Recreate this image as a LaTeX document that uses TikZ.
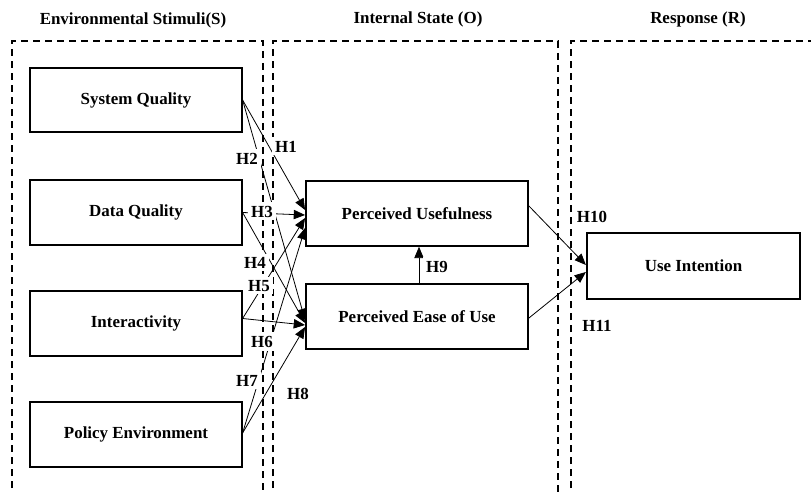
\documentclass[tikz,border=0pt]{standalone}
\usepackage{fontspec}
\setmainfont{Liberation Serif}
\usetikzlibrary{arrows.meta,calc}
\begin{document}
\begin{tikzpicture}[x=0.75pt,y=-0.75pt,
  font=\fontsize{12.7}{15}\selectfont\bfseries,
  box/.style={draw,line width=1.4pt,inner sep=0pt,minimum width=158.5pt,minimum height=48.5pt},
  region/.style={line width=1.4pt,dash pattern=on 5.5pt off 3.5pt},
  conn/.style={line width=0.6pt,-{Triangle[length=8.5pt,width=7pt]}},
  hlab/.style={fill=white,inner sep=2.5pt,anchor=base},
  head/.style={anchor=base}]
\path[use as bounding box] (0,0) rectangle (811,492);
\clip (0,0) rectangle (811,492);
% regions
\draw[region] (12,500) -- (12,41) -- (263,41) -- (263,500);
\draw[region] (273,500) -- (273,41) -- (558,41) -- (558,500);
\draw[region] (571,500) -- (571,41) -- (820,41);
% headings
\node[head] (hS) at (133,25) {Environmental Stimuli(S)};
\node[head] (hO) at (418,24) {Internal State (O)};
\node[head] (hR) at (698,24) {Response (R)};
% boxes
\node[box] (SQ) at (136,100) {System Quality};
\node[box] (DQ) at (136,212.5) {Data Quality};
\node[box] (IN) at (136,323.5) {Interactivity};
\node[box] (PE) at (136,434.5) {Policy Environment};
\node[box,minimum width=166.5pt] (PU) at (417,213.5) {Perceived Usefulness};
\node[box,minimum width=166.5pt] (PEOU) at (417,316.5) {Perceived Ease of Use};
\node[box,minimum width=160pt,minimum height=49.5pt] (UI) at (693.5,266) {Use Intention};
% connectors
\draw[conn] (SQ.east) -- ($(PU.west)+(0,-3.5)$);
\draw[conn] (SQ.east) -- ($(PEOU.west)+(0,3.5)$);
\draw[conn] (DQ.east) -- ($(PU.west)+(0,1.5)$);
\draw[conn] (DQ.east) -- ($(PEOU.west)+(0,6.5)$);
\draw[conn] ($(IN.east)+(0,-5)$) -- ($(PU.west)+(0,4.5)$);
\draw[conn] ($(IN.east)+(0,-5)$) -- ($(PEOU.west)+(0,8.5)$);
\draw[conn] ($(PE.east)+(0,-1.5)$) -- ($(PU.west)+(0,14.5)$);
\draw[conn] ($(PE.east)+(0,-1.5)$) -- ($(PEOU.west)+(0,10.5)$);
\draw[conn] ($(PEOU.north)+(2,0)$) -- ($(PU.south)+(2,0)$);
\draw[conn] ($(PU.east)+(0,-7.5)$) -- ($(UI.west)+(0,-1)$);
\draw[conn] ($(PEOU.east)+(0,1.5)$) -- ($(UI.west)+(0,6)$);
% labels
\node[hlab] (h1) at (286,152) {H1};
\node[hlab] (h2) at (247,164) {H2};
\node[hlab] (h3) at (262,217) {H3};
\node[hlab] (h4) at (255,268) {H4};
\node[hlab] (h5) at (259,291) {H5};
\node[hlab] (h6) at (262,347) {H6};
\node[hlab] (h7) at (247,386) {H7};
\node[hlab] (h8) at (298,399) {H8};
\node[hlab] (h9) at (437,272) {H9};
\node[hlab] (h10) at (592,222) {H10};
\node[hlab] (h11) at (597,331) {H11};
\end{tikzpicture}
\end{document}
